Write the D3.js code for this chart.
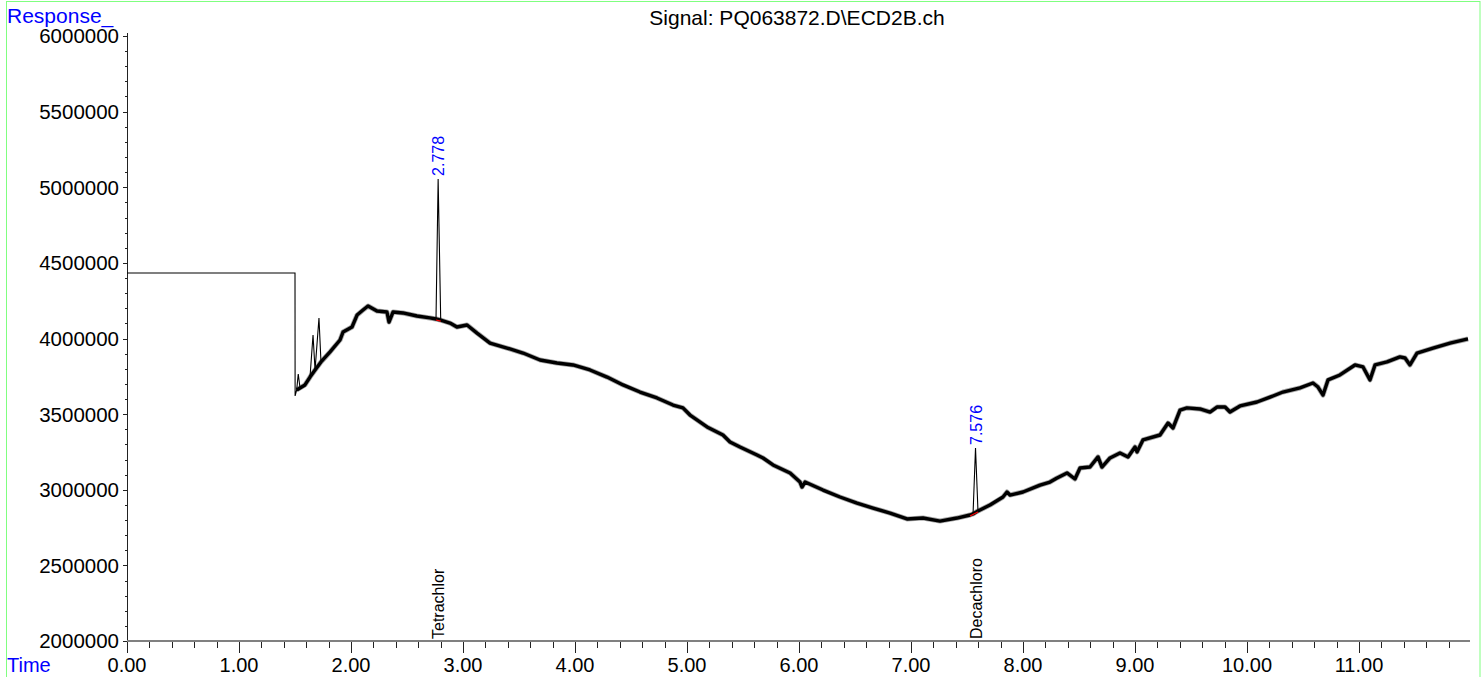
<!DOCTYPE html>
<html>
<head>
<meta charset="utf-8">
<script src="https://cdn.jsdelivr.net/npm/d3@7"></script>
<style>
  html, body { margin: 0; padding: 0; background: #fff; }
  svg { display: block; }
  text { font-family: "Liberation Sans", Arial, sans-serif; }
</style>
</head>
<body>
<svg id="chart" width="1484" height="677"></svg>
<script>
// ---- data ----
const title = "Signal: PQ063872.D\\ECD2B.ch";
const yTitle = "Response_";
const xTitle = "Time";

const times = [0, 1.500, 1.501, 1.515, 1.529, 1.545, 1.589, 1.634, 1.661, 1.679, 1.714, 1.732, 1.813, 1.902, 1.929,
  2.009, 2.054, 2.107, 2.152, 2.232, 2.321, 2.339, 2.375, 2.464, 2.589, 2.705, 2.759, 2.778, 2.801, 2.884, 2.946,
  3.036, 3.125, 3.241, 3.393, 3.536, 3.688, 3.839, 3.982, 4.134, 4.286, 4.429, 4.580, 4.732, 4.875, 4.964,
  5.027, 5.179, 5.321, 5.384, 5.473, 5.625, 5.679, 5.768, 5.920, 6.009, 6.027, 6.054, 6.214, 6.366, 6.518, 6.661,
  6.813, 6.964, 7.107, 7.259, 7.411, 7.527, 7.554, 7.576, 7.598, 7.705, 7.821, 7.857, 7.884, 8.000, 8.152, 8.241,
  8.304, 8.393, 8.464, 8.509, 8.598, 8.670, 8.705, 8.777, 8.866, 8.938, 9.000, 9.018, 9.071, 9.223, 9.295, 9.339,
  9.402, 9.464, 9.580, 9.670, 9.732, 9.804, 9.848, 9.938, 10.089, 10.232, 10.321, 10.473, 10.589, 10.634, 10.679,
  10.723, 10.830, 10.964, 11.036, 11.098, 11.143, 11.250, 11.366, 11.411, 11.455, 11.518, 11.661, 11.813, 11.973];

const responses = [4433000, 4433000, 3620000, 3660000, 3765000, 3673000, 3693000, 3745000, 4023000, 3792000, 4136000, 3845000, 3911000, 3990000, 4043000,
  4076000, 4155000, 4188000, 4215000, 4182000, 4175000, 4109000, 4175000, 4169000, 4149000, 4136000, 4129000, 5055000, 4122000, 4102000, 4076000,
  4089000, 4036000, 3970000, 3937000, 3904000, 3858000, 3838000, 3825000, 3792000, 3745000, 3693000, 3646000, 3607000, 3560000, 3541000,
  3494000, 3415000, 3362000, 3316000, 3283000, 3230000, 3210000, 3164000, 3111000, 3051000, 3018000, 3051000, 2998000, 2952000, 2912000, 2879000,
  2846000, 2807000, 2813000, 2793000, 2813000, 2833000, 2840000, 3276000, 2860000, 2899000, 2952000, 2985000, 2965000, 2985000, 3031000, 3051000,
  3078000, 3111000, 3071000, 3144000, 3150000, 3217000, 3150000, 3210000, 3243000, 3217000, 3283000, 3250000, 3329000, 3362000, 3441000, 3408000,
  3527000, 3541000, 3534000, 3514000, 3547000, 3547000, 3514000, 3554000, 3580000, 3620000, 3646000, 3673000, 3706000, 3679000, 3626000,
  3726000, 3759000, 3825000, 3812000, 3726000, 3825000, 3845000, 3878000, 3871000, 3825000, 3904000, 3937000, 3970000, 3997000];

// sharp spikes drawn as thin lines (not part of the noisy band)
const spikeTimes = [1.529, 1.661, 1.714, 2.778, 7.576];
const noiseStart = 1.515;

// integrated peaks
const peakTimes = [2.778, 7.576];
const peakTops = [5055000, 3276000];
const peakLabels = ["2.778", "7.576"];
const compoundNames = ["Tetrachlor", "Decachloro"];
const baseStartT = [2.759, 7.527];
const baseStartV = [4129000, 2833000];
const baseEndT = [2.801, 7.598];
const baseEndV = [4122000, 2860000];

const yTickValues = [2000000, 2500000, 3000000, 3500000, 4000000, 4500000, 5000000, 5500000, 6000000];
const xTickValues = [0, 1, 2, 3, 4, 5, 6, 7, 8, 9, 10, 11];

// ---- drawing ----
const svg = d3.select("#chart");
const x = d3.scaleLinear().domain([0, 12]).range([127, 1471]);
const y = d3.scaleLinear().domain([2000000, 6000000]).range([641, 36]);

// frame
svg.append("rect").attr("x", 6.5).attr("y", 1.5).attr("width", 1473.5).attr("height", 690)
  .attr("fill", "none").attr("stroke", "#80ff80").attr("stroke-width", 1);

// titles
svg.append("text").attr("x", 797).attr("y", 25).attr("text-anchor", "middle")
  .attr("font-size", 21).attr("fill", "#000").text(title);
svg.append("text").attr("x", 7).attr("y", 23).attr("font-size", 21).attr("fill", "#0000ff").text(yTitle);
svg.append("text").attr("x", 7).attr("y", 672).attr("font-size", 20).attr("fill", "#0000ff").text(xTitle);

// Y axis
const yAxis = svg.append("g");
yAxis.append("line").attr("x1", 127.5).attr("x2", 127.5).attr("y1", y(6000000) - 3).attr("y2", y(2000000))
  .attr("stroke", "#222").attr("stroke-width", 1);
const yMinor = d3.range(2000000, 6000001, 100000);
yAxis.selectAll("line.minor").data(yMinor).join("line").attr("class", "minor")
  .attr("x1", d => (d % 500000 === 0 ? 123 : 125)).attr("x2", 127.5)
  .attr("y1", d => Math.round(y(d)) + 0.5).attr("y2", d => Math.round(y(d)) + 0.5)
  .attr("stroke", "#222").attr("stroke-width", 1);
yAxis.selectAll("text").data(yTickValues).join("text")
  .attr("x", 119).attr("y", d => y(d)).attr("dy", "0.36em").attr("text-anchor", "end")
  .attr("font-size", 20.5).attr("fill", "#000").text(d => d3.format("d")(d));

// X axis
const xAxis = svg.append("g");
xAxis.append("line").attr("x1", 127).attr("x2", 1470).attr("y1", 641).attr("y2", 641)
  .attr("stroke", "#808080").attr("stroke-width", 2);
const xMinor = d3.range(0, 60).map(i => i * 0.2).filter(d => x(d) <= 1470);
xAxis.selectAll("line.tick").data(xMinor).join("line").attr("class", "tick")
  .attr("x1", d => Math.round(x(d)) + 0.5).attr("x2", d => Math.round(x(d)) + 0.5)
  .attr("y1", 642).attr("y2", d => (Math.abs(d - Math.round(d)) < 1e-6 ? 653 : 648))
  .attr("stroke", "#222").attr("stroke-width", 1);
xAxis.selectAll("text").data(xTickValues).join("text")
  .attr("x", d => x(d)).attr("y", 672).attr("text-anchor", "middle")
  .attr("font-size", 20).attr("fill", "#000").text(d => d.toFixed(2));

// trace
const pts = times.map((t, i) => ({ t, v: responses[i] }));
const line = d3.line().x(d => x(d.t)).y(d => y(d.v));
const isSpike = d => spikeTimes.some(s => Math.abs(s - d.t) < 1e-9);
const band = pts.filter(d => d.t >= noiseStart && !isSpike(d));

svg.append("path").datum(band).attr("d", line).attr("fill", "none")
  .attr("stroke", "#a8a8a8").attr("stroke-width", 5).attr("stroke-linejoin", "round");
svg.append("path").datum(band).attr("d", line).attr("fill", "none")
  .attr("stroke", "#000").attr("stroke-width", 3.4).attr("stroke-linejoin", "round");
svg.append("path").datum(pts).attr("d", line).attr("fill", "none")
  .attr("stroke", "#000").attr("stroke-width", 1.1).attr("stroke-linejoin", "miter");

// integration baselines
svg.selectAll("line.base").data(peakTimes).join("line").attr("class", "base")
  .attr("x1", (d, i) => x(baseStartT[i])).attr("y1", (d, i) => y(baseStartV[i]) + 1)
  .attr("x2", (d, i) => x(baseEndT[i])).attr("y2", (d, i) => y(baseEndV[i]) + 1)
  .attr("stroke", "#ff0000").attr("stroke-width", 1.2);

// peak retention time labels
svg.selectAll("text.rt").data(peakTimes).join("text").attr("class", "rt")
  .attr("transform", (d, i) => `translate(${x(d) + 6},${y(peakTops[i]) - 3}) rotate(-90)`)
  .attr("font-size", 16).attr("fill", "#0000ff").text((d, i) => peakLabels[i]);

// compound names
svg.selectAll("text.cmp").data(peakTimes).join("text").attr("class", "cmp")
  .attr("transform", d => `translate(${x(d) + 6},639) rotate(-90)`)
  .attr("font-size", 16).attr("fill", "#000").text((d, i) => compoundNames[i]);
</script>
</body>
</html>
